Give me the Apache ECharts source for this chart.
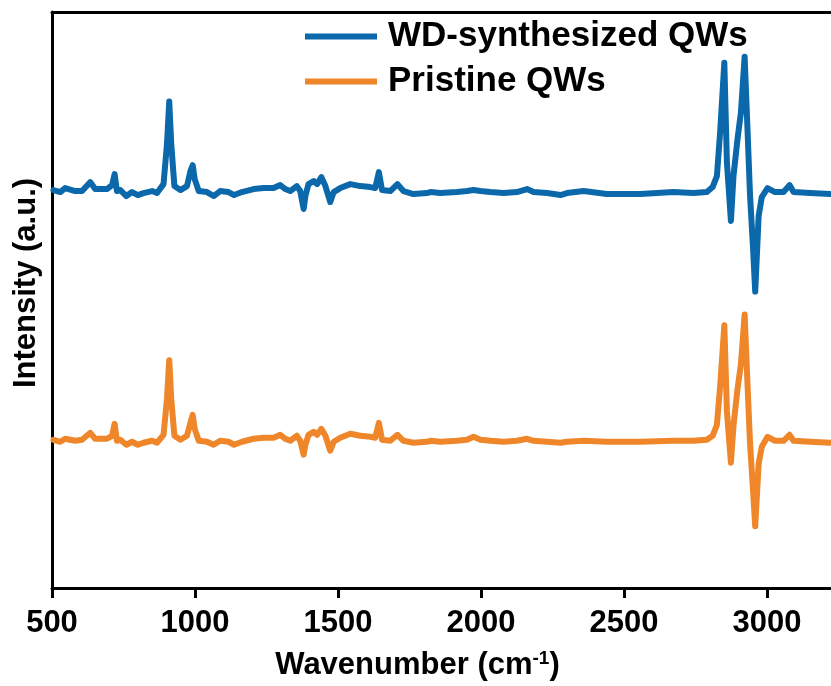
<!DOCTYPE html>
<html>
<head>
<meta charset="utf-8">
<script src="https://cdn.jsdelivr.net/npm/echarts@6/dist/echarts.min.js"></script>
<style>
  html, body { margin: 0; padding: 0; background: #fff; }
  #chart { width: 831px; height: 686px; }
</style>
</head>
<body>
<div id="chart"></div>
<script>
// wavenumber (cm-1) sample points shared by both spectra
const wavenumbers = [
  505, 529, 546, 581, 605, 634, 651, 692, 710, 719, 727, 739, 760, 780, 800, 820, 850, 867, 890, 902,
  910, 917, 928, 949, 972, 984, 992, 999, 1013, 1042, 1065, 1088, 1117, 1137, 1164, 1205, 1240, 1275, 1298, 1316,
  1333, 1356, 1368, 1380, 1386, 1397, 1415, 1427, 1442, 1456, 1473, 1485, 1508, 1543, 1578, 1613, 1630, 1643, 1654, 1683,
  1708, 1729, 1764, 1811, 1823, 1858, 1916, 1951, 1974, 1998, 2033, 2079, 2126, 2161, 2184, 2231, 2278, 2301, 2359, 2440,
  2557, 2673, 2743, 2790, 2810, 2825, 2837, 2851, 2860, 2874, 2883, 2897, 2909, 2922, 2932, 2941, 2951, 2959, 2971, 2982,
  3002, 3028, 3058, 3079, 3093, 3151, 3221
];

// intensity (a.u.), spectra stacked with an offset as in the figure
const wdSynthesized = [
  400, 398, 402, 399, 399, 408, 401, 401, 405, 416, 399, 400, 394, 398, 395, 397, 399, 397, 406, 446,
  489, 446, 404, 400, 404, 419, 425, 411, 399, 398, 394, 399, 398, 395, 398, 401, 402, 402, 405, 401,
  399, 404, 399, 381, 394, 406, 409, 406, 413, 404, 388, 398, 402, 406, 404, 403, 402, 418, 400, 399,
  406, 399, 396, 397, 398, 397, 398, 399, 400, 399, 398, 397, 398, 401, 398, 397, 395, 397, 399, 396,
  396, 398, 397, 398, 403, 414, 461, 528, 428, 369, 414, 451, 478, 534, 461, 394, 344, 298, 374, 393,
  402, 398, 398, 405, 398, 397, 396
];

const pristine = [
  149, 147, 150, 148, 149, 156, 150, 150, 153, 165, 148, 149, 144, 147, 144, 146, 148, 146, 154, 190,
  229, 190, 153, 149, 153, 166, 174, 160, 148, 147, 144, 148, 147, 144, 147, 150, 151, 151, 154, 150,
  148, 153, 148, 134, 144, 154, 157, 154, 160, 153, 138, 147, 151, 155, 153, 152, 151, 166, 149, 148,
  154, 148, 146, 147, 148, 147, 148, 149, 152, 149, 148, 147, 148, 150, 148, 147, 146, 147, 148, 147,
  147, 148, 148, 149, 153, 164, 205, 264, 178, 126, 163, 200, 225, 275, 205, 145, 100, 62, 125, 142,
  152, 148, 148, 154, 148, 147, 146
];

const xTicks = [500, 1000, 1500, 2000, 2500, 3000];

const FONT = 'Liberation Sans, Arial, Helvetica, sans-serif';

const chart = echarts.init(document.getElementById('chart'));

function pairs(ys) {
  return wavenumbers.map((x, i) => [x, ys[i]]);
}

chart.setOption({
  animation: false,
  backgroundColor: '#fff',
  grid: {
    left: 52,
    right: 0,
    top: 12,
    bottom: 95,
  },
  legend: {
    orient: 'vertical',
    left: 305,
    top: 14,
    padding: 0,
    icon: 'rect',
    itemWidth: 72,
    itemHeight: 6,
    itemGap: 0,
    textStyle: {
      fontFamily: FONT,
      fontWeight: 'bold',
      fontSize: 35,
      color: '#000',
      lineHeight: 45,
      padding: [0, 0, 0, 6],
    },
    data: ['WD-synthesized QWs', 'Pristine QWs'],
  },
  xAxis: [
    {
      type: 'value',
      min: 500,
      max: 3224,
      interval: 500,
      name: '{a|Wavenumber (cm}{b|-1}{a|)}',
      nameLocation: 'middle',
      nameGap: 61,
      nameTextStyle: {
        padding: [0, 48, 0, 0],
        rich: {
          a: { fontFamily: FONT, fontWeight: 'bold', fontSize: 31, color: '#000' },
          b: { fontFamily: FONT, fontWeight: 'bold', fontSize: 19, color: '#000', verticalAlign: 'top', padding: [0, 0, 14, 0] },
        },
      },
      axisLine: { lineStyle: { color: '#000', width: 3 } },
      axisTick: { show: true, inside: false, length: 10, lineStyle: { color: '#000', width: 3 } },
      axisLabel: {
        show: true,
        margin: 20,
        fontFamily: FONT,
        fontWeight: 'bold',
        fontSize: 31,
        color: '#000',
        showMaxLabel: false,
        formatter: (v) => (xTicks.includes(v) ? String(v) : ''),
      },
      splitLine: { show: false },
    },
    {
      type: 'value',
      position: 'top',
      min: 500,
      max: 3224,
      axisLine: { show: true, lineStyle: { color: '#000', width: 3 } },
      axisTick: { show: false },
      axisLabel: { show: false },
      splitLine: { show: false },
    },
  ],
  yAxis: {
    type: 'value',
    min: 0,
    max: 579,
    name: 'Intensity (a.u.)',
    nameLocation: 'middle',
    nameGap: 10,
    nameTextStyle: {
      fontFamily: FONT,
      fontWeight: 'bold',
      fontSize: 31,
      color: '#000',
      padding: [0, 0, 0, 34],
    },
    axisLine: { show: true, lineStyle: { color: '#000', width: 3 } },
    axisTick: { show: false },
    axisLabel: { show: false },
    splitLine: { show: false },
  },
  series: [
    {
      name: 'WD-synthesized QWs',
      type: 'line',
      data: pairs(wdSynthesized),
      showSymbol: false,
      symbol: 'none',
      lineStyle: { color: '#0a68ab', width: 6, join: 'round', cap: 'round' },
      itemStyle: { color: '#0a68ab' },
    },
    {
      name: 'Pristine QWs',
      type: 'line',
      data: pairs(pristine),
      showSymbol: false,
      symbol: 'none',
      lineStyle: { color: '#ef8629', width: 6, join: 'round', cap: 'round' },
      itemStyle: { color: '#ef8629' },
    },
  ],
});
</script>
</body>
</html>
